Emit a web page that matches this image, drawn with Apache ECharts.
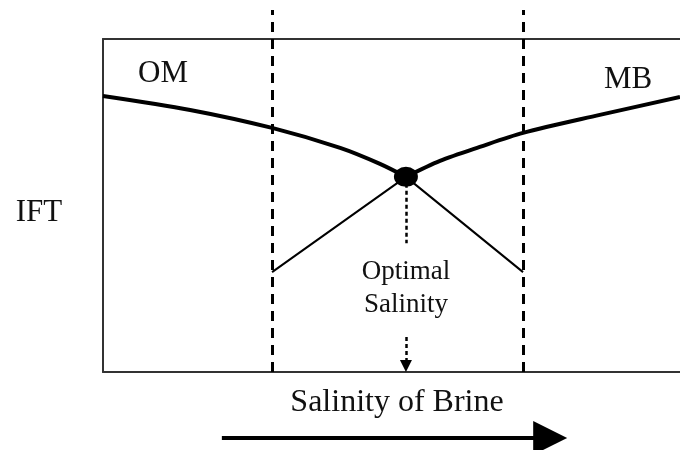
<!DOCTYPE html>
<html>
<head>
<meta charset="utf-8">
<script src="https://cdn.jsdelivr.net/npm/echarts@6/dist/echarts.min.js"></script>
<style>
html, body { margin: 0; padding: 0; background: #fff; }
#chart { width: 680px; height: 450px; }
</style>
</head>
<body>
<div id="chart"></div>
<script>
// IFT vs salinity, arbitrary units (x and y both 0-100 inside the box)
var omX = [0, 15.1, 29.3, 41.1, 48.0, 52.5];
var omY = [82.9, 78.7, 73.3, 67.3, 62.5, 58.6];
var mbX = [52.5, 58.4, 65.3, 72.8, 86.1, 100];
var mbY = [58.6, 63.4, 67.6, 71.8, 77.2, 82.6];
var lowerX = [29.3, 52.5, 72.8];
var lowerY = [30.0, 58.6, 30.0];
var optimum = [52.5, 58.6];
var boundsX = [29.3, 72.8];   // dashed window limits
var boundsTop = 108.7;
var labels = [
  { name: 'OM', value: [10.4, 89.5] },
  { name: 'MB', value: [91.0, 87.7] },
  { name: 'IFT', value: [-11.1, 47.7] },
  { name: 'Optimal\nSalinity', value: [52.5, 25.1] }
];
var guideTop = 38.7;     // end of short dashes below optimum
var arrowFrom = 10.5;    // dashed arrow onto axis
var brineArrow = { y: -19.8, from: 20.6, to: 77.5 };

function pairs(xs, ys) {
  return xs.map(function (x, i) { return [x, ys[i]]; });
}

var font = '"Liberation Serif", "Times New Roman", serif';
var chart = echarts.init(document.getElementById('chart'));

var option = {
  animation: false,
  grid: { left: 103, right: 0, top: 39, bottom: 78 },
  xAxis: [
    {
      type: 'value', min: 0, max: 100, position: 'bottom',
      axisLine: { lineStyle: { color: '#333', width: 2 } },
      axisTick: { show: false }, axisLabel: { show: false }, splitLine: { show: false },
      name: 'Salinity of Brine', nameLocation: 'middle', nameGap: 15,
      nameTextStyle: { fontFamily: font, fontSize: 32, color: '#111', padding: [0, 0, 0, 11] }
    },
    {
      type: 'value', min: 0, max: 100, position: 'top',
      axisLine: { lineStyle: { color: '#333', width: 2 } },
      axisTick: { show: false }, axisLabel: { show: false }, splitLine: { show: false }
    }
  ],
  yAxis: {
    type: 'value', min: 0, max: 100,
    axisLine: { show: true, lineStyle: { color: '#333', width: 2 } },
    axisTick: { show: false }, axisLabel: { show: false }, splitLine: { show: false }
  },
  series: [
    {
      type: 'line', data: pairs(omX, omY), showSymbol: false, smooth: 0.3,
      lineStyle: { color: '#000', width: 4 }
    },
    {
      type: 'line', data: pairs(mbX, mbY), showSymbol: false, smooth: 0.3,
      lineStyle: { color: '#000', width: 4 }
    },
    {
      type: 'line', data: pairs(lowerX, lowerY), showSymbol: false,
      lineStyle: { color: '#000', width: 2 }
    },
    {
      type: 'lines', coordinateSystem: 'cartesian2d', clip: false,
      lineStyle: { color: '#000', width: 3, type: [10, 7], opacity: 1 },
      data: boundsX.map(function (x) { return { coords: [[x, 0], [x, boundsTop]] }; })
    },
    {
      type: 'lines', coordinateSystem: 'cartesian2d',
      lineStyle: { color: '#000', width: 2.5, type: [4, 3], opacity: 1 },
      data: [{ coords: [optimum, [optimum[0], guideTop]] }]
    },
    {
      type: 'lines', coordinateSystem: 'cartesian2d',
      symbol: ['none', 'triangle'], symbolSize: [11, 12],
      lineStyle: { color: '#000', width: 2.5, type: [4, 3], opacity: 1 },
      data: [{ coords: [[optimum[0], arrowFrom], [optimum[0], 1.8]] }]
    },
    {
      type: 'lines', coordinateSystem: 'cartesian2d', clip: false,
      symbol: ['none', 'triangle'], symbolSize: [27, 34],
      lineStyle: { color: '#000', width: 4, opacity: 1 },
      data: [{ coords: [[brineArrow.from, brineArrow.y], [brineArrow.to, brineArrow.y]] }]
    },
    {
      type: 'scatter', data: [optimum], symbol: 'circle', symbolSize: [24, 20],
      itemStyle: { color: '#000', opacity: 1 }, z: 5
    },
    {
      type: 'scatter', data: labels, symbolSize: 0, clip: false,
      itemStyle: { opacity: 1 },
      label: {
        show: true, position: 'inside', formatter: '{b}',
        fontFamily: font, fontSize: 31, color: '#111', lineHeight: 33
      }
    }
  ]
};
// smaller type for the optimum label
option.series[8].data[3].label = { fontSize: 27 };

chart.setOption(option);
</script>
</body>
</html>
